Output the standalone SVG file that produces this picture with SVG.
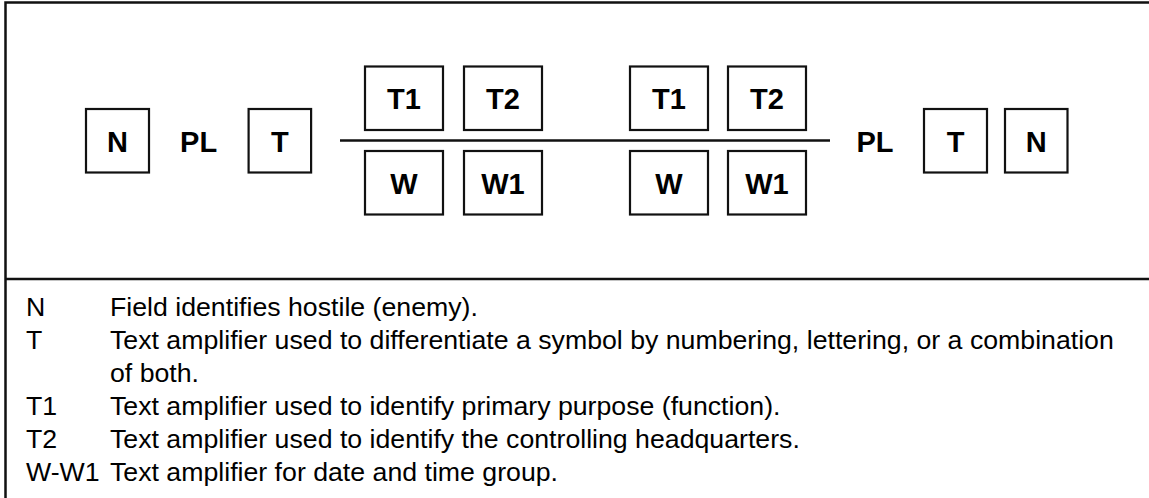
<svg xmlns="http://www.w3.org/2000/svg" width="1149" height="498" viewBox="0 0 1149 498">
<style>
.frame{fill:none;stroke:#111;stroke-width:2.5}
.box{fill:#fff;stroke:#111;stroke-width:2.2}
.lbl{font-family:"Liberation Sans",Arial,sans-serif;font-weight:bold;font-size:29px;fill:#000;text-anchor:middle}
.leg{font-family:"Liberation Sans",Arial,sans-serif;font-size:26.7px;fill:#000}
.conn{stroke:#111;stroke-width:2.5;fill:none}
</style>
<rect width="1149" height="498" fill="#fff"/>
<path class="frame" d="M1160,2.5 H5.5 V500 M5.5,279 H1160"/>
<g id="connectors">
<line class="conn" x1="340" y1="140.5" x2="830" y2="140.5"/>
</g>
<g id="n-left"><rect class="box" x="86" y="109" width="63" height="63.5"/><text class="lbl" x="117.5" y="151.5">N</text></g>
<text id="pl-left" class="lbl" x="198.6" y="151.5">PL</text>
<g id="t-left"><rect class="box" x="248.6" y="109" width="62.5" height="63.5"/><text class="lbl" x="279.9" y="151.5">T</text></g>
<g id="t1-left"><rect class="box" x="365" y="66.5" width="78" height="63.5"/><text class="lbl" x="404" y="108.5">T1</text></g>
<g id="t2-left"><rect class="box" x="464" y="66.5" width="78" height="63.5"/><text class="lbl" x="503" y="108.5">T2</text></g>
<g id="w-left"><rect class="box" x="365" y="151" width="78" height="63.5"/><text class="lbl" x="404" y="193.5">W</text></g>
<g id="w1-left"><rect class="box" x="464" y="151" width="78" height="63.5"/><text class="lbl" x="503" y="193.5">W1</text></g>
<g id="t1-right"><rect class="box" x="630" y="66.5" width="78" height="63.5"/><text class="lbl" x="669" y="108.5">T1</text></g>
<g id="t2-right"><rect class="box" x="728" y="66.5" width="78" height="63.5"/><text class="lbl" x="767" y="108.5">T2</text></g>
<g id="w-right"><rect class="box" x="630" y="151" width="78" height="63.5"/><text class="lbl" x="669" y="193.5">W</text></g>
<g id="w1-right"><rect class="box" x="728" y="151" width="78" height="63.5"/><text class="lbl" x="767" y="193.5">W1</text></g>
<text id="pl-right" class="lbl" x="875" y="151.5">PL</text>
<g id="t-right"><rect class="box" x="924" y="109" width="63" height="63.5"/><text class="lbl" x="955.5" y="151.5">T</text></g>
<g id="n-right"><rect class="box" x="1005" y="109" width="62.5" height="63.5"/><text class="lbl" x="1036.2" y="151.5">N</text></g>
<g id="legend" class="leg">
<text x="26" y="316">N</text><text x="110" y="316">Field identifies hostile (enemy).</text>
<text x="26" y="349">T</text><text x="110" y="349">Text amplifier used to differentiate a symbol by numbering, lettering, or a combination</text>
<text x="110" y="382">of both.</text>
<text x="26" y="415">T1</text><text x="110" y="415">Text amplifier used to identify primary purpose (function).</text>
<text x="26" y="448">T2</text><text x="110" y="448">Text amplifier used to identify the controlling headquarters.</text>
<text x="26" y="481">W-W1</text><text x="110" y="481">Text amplifier for date and time group.</text>
</g>
</svg>
